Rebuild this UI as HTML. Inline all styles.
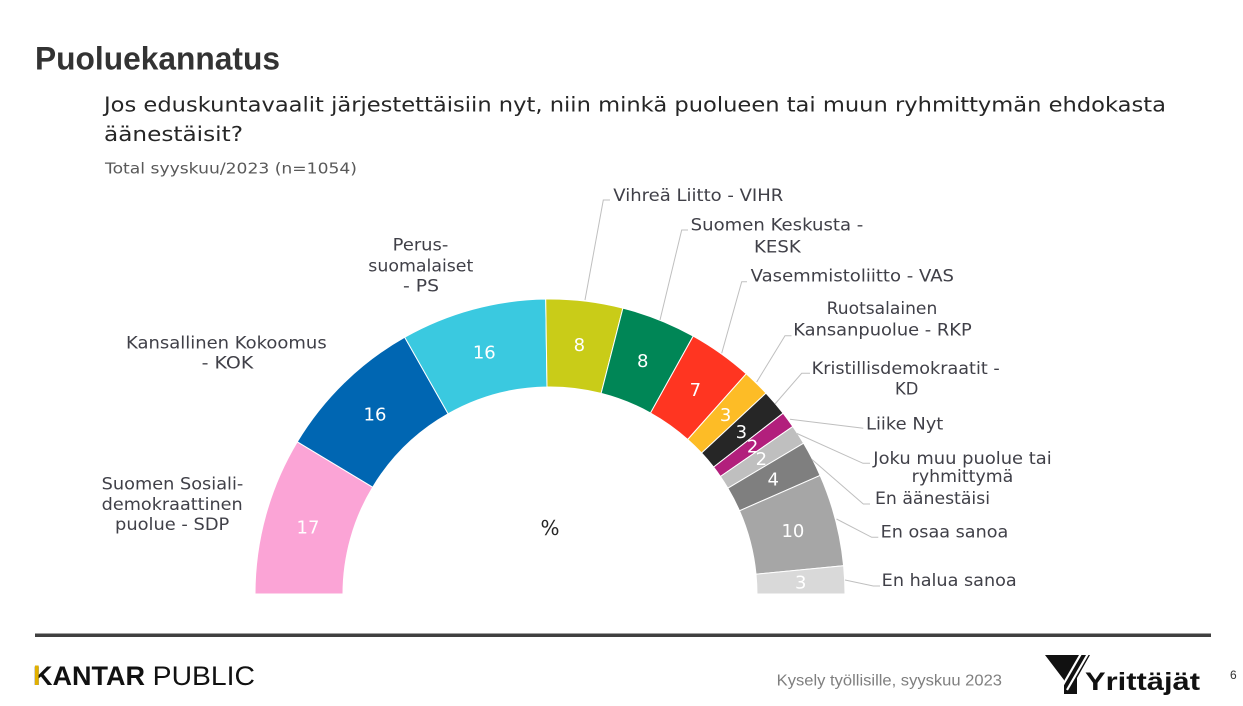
<!DOCTYPE html>
<html>
<head>
<meta charset="utf-8">
<style>
html,body{margin:0;padding:0;background:#fff;}
svg{display:block;}
</style>
</head>
<body>
<svg width="1243" height="706" viewBox="0 0 1243 706" xmlns="http://www.w3.org/2000/svg">
<rect width="1243" height="706" fill="#ffffff"/>

<!-- Header -->
<text x="35" y="69.5" font-family="Liberation Sans, Arial, sans-serif" font-weight="bold" font-size="32" fill="#333333" textLength="245" lengthAdjust="spacingAndGlyphs">Puoluekannatus</text>
<text x="104" y="111.7" font-family="DejaVu Sans, Verdana, sans-serif" font-size="20.5" fill="#262626" textLength="1062" lengthAdjust="spacingAndGlyphs">Jos eduskuntavaalit järjestettäisiin nyt, niin minkä puolueen tai muun ryhmittymän ehdokasta</text>
<text x="104" y="141" font-family="DejaVu Sans, Verdana, sans-serif" font-size="20.5" fill="#262626" textLength="139" lengthAdjust="spacingAndGlyphs">äänestäisit?</text>
<text x="105" y="173.3" font-family="DejaVu Sans, Verdana, sans-serif" font-size="15" fill="#595959" textLength="252" lengthAdjust="spacingAndGlyphs">Total syyskuu/2023 (n=1054)</text>

<!-- Donut segments -->
<g stroke="#ffffff" stroke-width="1">
<path d="M255,594 A295,295 0 0 1 297.3,441.8 L372.7,487.2 A207,207 0 0 0 343,594 Z" fill="#FBA4D6"/>
<path d="M297.3,441.8 A295,295 0 0 1 404.7,337.2 L448.1,413.8 A207,207 0 0 0 372.7,487.2 Z" fill="#0066B2"/>
<path d="M404.7,337.2 A295,295 0 0 1 545.7,299 L547,387 A207,207 0 0 0 448.1,413.8 Z" fill="#3AC9E0"/>
<path d="M545.7,299 A295,295 0 0 1 622.9,308.1 L601.1,393.4 A207,207 0 0 0 547,387 Z" fill="#C9CC18"/>
<path d="M622.9,308.1 A295,295 0 0 1 693.2,336.1 L650.5,413 A207,207 0 0 0 601.1,393.4 Z" fill="#008656"/>
<path d="M693.2,336.1 A295,295 0 0 1 746.2,373.8 L687.7,439.5 A207,207 0 0 0 650.5,413 Z" fill="#FF3521"/>
<path d="M746.2,373.8 A295,295 0 0 1 766,393.1 L701.6,453 A207,207 0 0 0 687.7,439.5 Z" fill="#FDBC26"/>
<path d="M766,393.1 A295,295 0 0 1 783.1,413.2 L713.6,467.1 A207,207 0 0 0 701.6,453 Z" fill="#262626"/>
<path d="M783.1,413.2 A295,295 0 0 1 792.8,426.5 L720.4,476.5 A207,207 0 0 0 713.6,467.1 Z" fill="#B21F7C"/>
<path d="M792.8,426.5 A295,295 0 0 1 803.6,443.2 L727.9,488.2 A207,207 0 0 0 720.4,476.5 Z" fill="#BFBFBF"/>
<path d="M803.6,443.2 A295,295 0 0 1 820.1,475.4 L739.5,510.8 A207,207 0 0 0 727.9,488.2 Z" fill="#7F7F7F"/>
<path d="M820.1,475.4 A295,295 0 0 1 843.6,565.7 L756,574.2 A207,207 0 0 0 739.5,510.8 Z" fill="#A6A6A6"/>
<path d="M843.6,565.7 A295,295 0 0 1 845,594 L757,594 A207,207 0 0 0 756,574.2 Z" fill="#D9D9D9"/>
</g>

<!-- Segment values -->
<g font-family="DejaVu Sans, Verdana, sans-serif" font-size="18" fill="#ffffff" text-anchor="middle">
<text x="308" y="533.5">17</text>
<text x="375" y="420.6">16</text>
<text x="484.3" y="358.3">16</text>
<text x="579.4" y="351.2">8</text>
<text x="642.7" y="367.2">8</text>
<text x="695.3" y="395.8">7</text>
<text x="725.6" y="421.2">3</text>
<text x="741.3" y="438">3</text>
<text x="752.6" y="452.3">2</text>
<text x="761.3" y="465">2</text>
<text x="773.2" y="485.7">4</text>
<text x="792.9" y="537.2">10</text>
<text x="800.7" y="588.5">3</text>
</g>
<text x="550" y="535" font-family="DejaVu Sans, Verdana, sans-serif" font-size="20" fill="#262626" text-anchor="middle">%</text>

<!-- Leader lines -->
<g fill="none" stroke="#BFBFBF" stroke-width="1">
<polyline points="585,300 603.3,200 610,200"/>
<polyline points="660,320 681.7,230 688,230"/>
<polyline points="721.7,353.3 741.7,281.7 747,281.7"/>
<polyline points="756.7,382 785,335.7 791.5,335.7"/>
<polyline points="775,404 801.7,373.3 810,373.3"/>
<polyline points="790,419.3 863.3,428.3"/>
<polyline points="797,433.5 863,463.3 870,463.3"/>
<polyline points="812,459.5 863.3,504 870,504"/>
<polyline points="836.5,519 871.7,537.3 878.3,537.3"/>
<polyline points="845,580 873.3,586 880,586"/>
</g>

<!-- Labels -->
<g font-family="DejaVu Sans, Verdana, sans-serif" font-size="17" fill="#404048">
<text x="392.7" y="250.7" textLength="55.6" lengthAdjust="spacingAndGlyphs">Perus-</text>
<text x="368.3" y="271.7" textLength="105" lengthAdjust="spacingAndGlyphs">suomalaiset</text>
<text x="403" y="291.7" textLength="36" lengthAdjust="spacingAndGlyphs">- PS</text>

<text x="126" y="348.3" textLength="200.7" lengthAdjust="spacingAndGlyphs">Kansallinen Kokoomus</text>
<text x="201.7" y="368.3" textLength="51.6" lengthAdjust="spacingAndGlyphs">- KOK</text>

<text x="101.7" y="489.3" textLength="141.6" lengthAdjust="spacingAndGlyphs">Suomen Sosiali-</text>
<text x="101.7" y="510" textLength="141" lengthAdjust="spacingAndGlyphs">demokraattinen</text>
<text x="115" y="530" textLength="114.3" lengthAdjust="spacingAndGlyphs">puolue - SDP</text>

<text x="613.3" y="201" textLength="170" lengthAdjust="spacingAndGlyphs">Vihreä Liitto - VIHR</text>
<text x="690.7" y="230.3" textLength="172.6" lengthAdjust="spacingAndGlyphs">Suomen Keskusta -</text>
<text x="754" y="252.7" textLength="46.7" lengthAdjust="spacingAndGlyphs">KESK</text>
<text x="750.7" y="281.7" textLength="203.3" lengthAdjust="spacingAndGlyphs">Vasemmistoliitto - VAS</text>
<text x="826.7" y="314" textLength="110.6" lengthAdjust="spacingAndGlyphs">Ruotsalainen</text>
<text x="793.3" y="335.7" textLength="178.4" lengthAdjust="spacingAndGlyphs">Kansanpuolue - RKP</text>
<text x="811.7" y="374" textLength="188" lengthAdjust="spacingAndGlyphs">Kristillisdemokraatit -</text>
<text x="895" y="394.3" textLength="23.3" lengthAdjust="spacingAndGlyphs">KD</text>
<text x="866" y="429.3" textLength="77.3" lengthAdjust="spacingAndGlyphs">Liike Nyt</text>
<text x="873.3" y="464" textLength="178.4" lengthAdjust="spacingAndGlyphs">Joku muu puolue tai</text>
<text x="911.7" y="482" textLength="101.6" lengthAdjust="spacingAndGlyphs">ryhmittymä</text>
<text x="875" y="504" textLength="115" lengthAdjust="spacingAndGlyphs">En äänestäisi</text>
<text x="880.7" y="537.7" textLength="127.6" lengthAdjust="spacingAndGlyphs">En osaa sanoa</text>
<text x="881.7" y="586" textLength="135" lengthAdjust="spacingAndGlyphs">En halua sanoa</text>
</g>

<!-- Footer -->
<rect x="35" y="633.5" width="1176" height="3.5" fill="#404040"/>
<text x="33" y="685" font-family="Liberation Sans, Arial, sans-serif" font-weight="bold" font-size="27" fill="#111111" textLength="112" lengthAdjust="spacingAndGlyphs">KANTAR</text>
<rect x="35" y="665.5" width="3.6" height="19.5" fill="#E2B100"/>
<text x="152.7" y="685" font-family="Liberation Sans, Arial, sans-serif" font-size="27" fill="#111111" textLength="102.3" lengthAdjust="spacingAndGlyphs">PUBLIC</text>

<text x="776.7" y="685.7" font-family="Liberation Sans, Arial, sans-serif" font-size="15.5" fill="#7F7F7F" textLength="225.3" lengthAdjust="spacingAndGlyphs">Kysely työllisille, syyskuu 2023</text>

<!-- Yrittäjät logo -->
<g>
<polygon points="1045,655 1090,655 1077,678 1077,694 1064,694 1064,680" fill="#111111"/>
<line x1="1082" y1="652" x2="1060" y2="690" stroke="#ffffff" stroke-width="2.2"/>
<line x1="1089" y1="652" x2="1067" y2="690" stroke="#ffffff" stroke-width="2.2"/>
</g>
<text x="1085" y="690" font-family="Liberation Sans, Arial, sans-serif" font-weight="bold" font-size="25" fill="#111111" textLength="115" lengthAdjust="spacingAndGlyphs">Yrittäjät</text>
<text x="1230" y="679" font-family="Liberation Sans, Arial, sans-serif" font-size="12" fill="#333333">6</text>
</svg>
</body>
</html>
